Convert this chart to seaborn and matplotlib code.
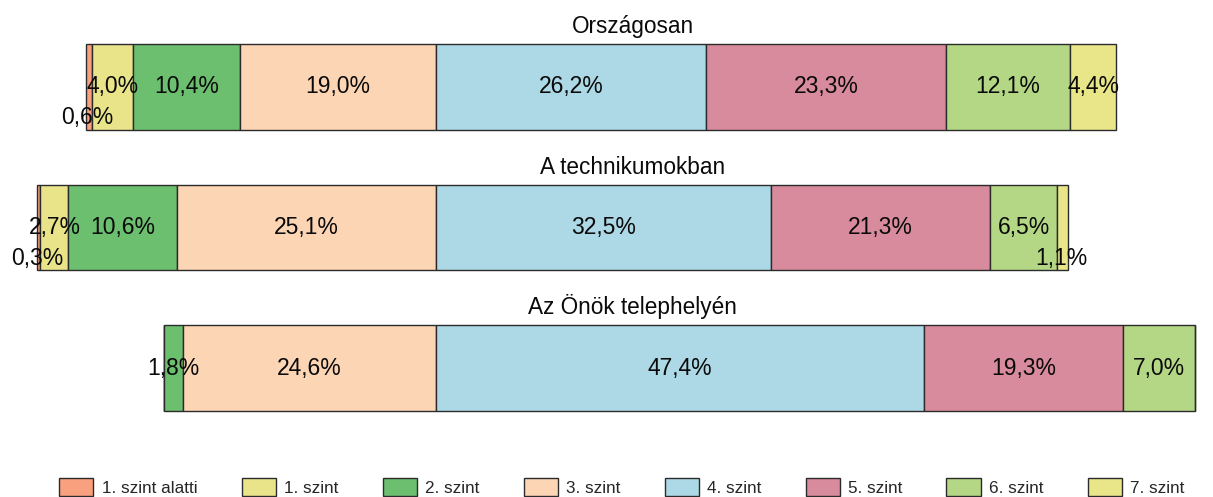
import matplotlib
matplotlib.use("Agg")
import matplotlib.pyplot as plt
import seaborn as sns
import pandas as pd
import numpy as np

groups = ["Országosan", "A technikumokban", "Az Önök telephelyén"]
levels = ["1. szint alatti", "1. szint", "2. szint", "3. szint",
          "4. szint", "5. szint", "6. szint", "7. szint"]
below1 = [0.6, 0.3, 0.0]
lvl1 = [4.0, 2.7, 0.0]
lvl2 = [10.4, 10.6, 1.8]
lvl3 = [19.0, 25.1, 24.6]
lvl4 = [26.2, 32.5, 47.4]
lvl5 = [23.3, 21.3, 19.3]
lvl6 = [12.1, 6.5, 7.0]
lvl7 = [4.4, 1.1, 0.0]
series = [below1, lvl1, lvl2, lvl3, lvl4, lvl5, lvl6, lvl7]
colors = ["#F9A07E", "#E9E48A", "#6BBF6F", "#FCD5B4",
          "#ADD8E6", "#D88B9C", "#B3D785", "#E9E68A"]

sns.set_theme(style="white")
plt.rcParams["font.family"] = ["Liberation Sans", "DejaVu Sans"]

fig = plt.figure(figsize=(12.13, 4.97), dpi=100)
# x: 0 at pixel 436, 10.3 px per %
x0, x1 = -40, 75
px_left = 436 + 10.3 * x0
px_right = 436 + 10.3 * x1
y_top_px = 87 - 0.6 * 140.5
y_bot_px = 87 + 2.6 * 140.5
ax = fig.add_axes([px_left / 1213, 1 - y_bot_px / 497,
                   (px_right - px_left) / 1213, (y_bot_px - y_top_px) / 497])

vals = np.array(series)  # levels x groups
lefts = np.zeros_like(vals)
for g in range(len(groups)):
    for k in range(4):
        lefts[k, g] = -vals[k:4, g].sum()
    acc = 0.0
    for k in range(4, 8):
        lefts[k, g] = acc
        acc += vals[k, g]

for k, lev in enumerate(levels):
    df = pd.DataFrame({"group": groups, "value": vals[k]})
    sns.barplot(data=df, x="value", y="group", order=groups, orient="y",
                left=lefts[k], color=colors[k], width=0.61,
                edgecolor="#2b2b2b", linewidth=1.0, label=lev, ax=ax,
                saturation=1)

for k in range(len(levels)):
    for g in range(len(groups)):
        v = vals[k, g]
        if v <= 0:
            continue
        cx = lefts[k, g] + v / 2
        if v < 1.5:
            cx -= 0.15
        cy = g + (0.22 if v < 1.5 else 0.0)
        txt = f"{v:.1f}%".replace(".", ",")
        ax.text(cx, cy, txt, ha="center", va="center", fontsize=16.5,
                color="#0a0a0a")

for g, name in enumerate(groups):
    ax.text(19.1, g - 0.384, name, ha="center", va="baseline", fontsize=16.3,
            color="#0a0a0a")

ax.set_xlim(x0, x1)
ax.set_ylim(2.6, -0.6)
ax.set_xticks([])
ax.set_yticks([])
ax.set_xlabel("")
ax.set_ylabel("")
for s in ax.spines.values():
    s.set_visible(False)
if ax.get_legend() is not None:
    ax.get_legend().remove()

handles, labels = ax.get_legend_handles_labels()
fig.legend(handles, labels, loc="center", ncol=8,
           bbox_to_anchor=(622 / 1213, 1 - 487 / 497), frameon=False,
           fontsize=12.3, handlelength=2.0, handleheight=1.2,
           handletextpad=0.5, columnspacing=2.57)

fig.savefig("out.png", dpi=100)
